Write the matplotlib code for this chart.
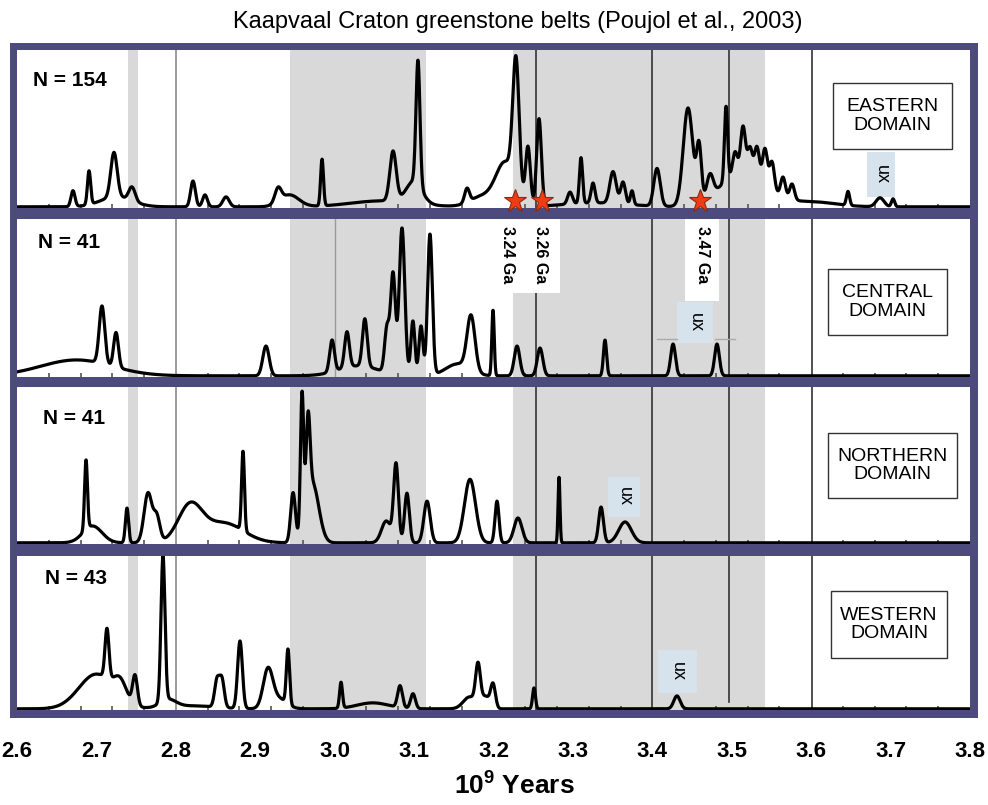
import numpy as np
import matplotlib
matplotlib.use("Agg")
import matplotlib.pyplot as plt
from matplotlib.patches import Rectangle
import matplotlib.transforms as mtransforms

plt.rcParams["mathtext.fontset"] = "custom"
plt.rcParams["mathtext.rm"] = "Liberation Sans"
plt.rcParams["mathtext.bf"] = "Liberation Sans:bold"

# ---------------- data ----------------
title = "Kaapvaal Craton greenstone belts (Poujol et al., 2003)"
xlabel = r"$\mathbf{10^{9}}$ Years"
tick_values = [2.6, 2.7, 2.8, 2.9, 3.0, 3.1, 3.2, 3.3, 3.4, 3.5, 3.6, 3.7, 3.8]
tick_labels = ["2.6", "2.7", "2.8", "2.9", "3.0", "3.1", "3.2", "3.3", "3.4", "3.5", "3.6", "3.7", "3.8"]

domains = ["EASTERN\nDOMAIN", "CENTRAL\nDOMAIN", "NORTHERN\nDOMAIN", "WESTERN\nDOMAIN"]
n_labels = ["N = 154", "N = 41", "N = 41", "N = 43"]

# peak components of each probability curve: age (Ga), relative height, width (Ga)
east_age = [2.6705, 2.6907, 2.7221, 2.725, 2.7448, 2.8216, 2.8367, 2.8632, 2.9287, 2.943,
            2.9841, 3.06, 3.0735, 3.100, 3.1049, 3.1666, 3.185, 3.215, 3.2283, 3.2434, 3.2573,
            3.2963, 3.3102, 3.3253, 3.33, 3.3505, 3.3631, 3.3744, 3.4059, 3.4449, 3.4588,
            3.4726, 3.4928, 3.5041, 3.5142, 3.523, 3.5318, 3.5419, 3.5507, 3.515, 3.5646,
            3.5759, 3.60, 3.6464, 3.6867, 3.7031]
east_h = [16, 34, 45, 10, 14, 26, 12, 10, 14, 12,
          47, 6, 50, 22, 125, 14, 10, 44, 128, 58, 88,
          12, 46, 20, 4, 32, 22, 14, 38, 98, 55,
          22, 75, 22, 45, 25, 30, 35, 28, 36, 20,
          16, 5, 14, 9, 8]
east_w = [0.0025, 0.002, 0.004, 0.02, 0.004, 0.003, 0.003, 0.004, 0.004, 0.012,
          0.0018, 0.04, 0.004, 0.01, 0.0025, 0.003, 0.015, 0.012, 0.004, 0.003, 0.003,
          0.003, 0.002, 0.0025, 0.04, 0.004, 0.003, 0.002, 0.004, 0.006, 0.003,
          0.004, 0.002, 0.003, 0.003, 0.003, 0.003, 0.003, 0.003, 0.028, 0.003,
          0.003, 0.03, 0.002, 0.005, 0.002]

central_age = [2.675, 2.707, 2.7247, 2.9135, 2.9967, 3.0155, 3.03, 3.038, 3.0659, 3.0735,
               3.0848, 3.0985, 3.1087, 3.12, 3.155, 3.1717, 3.1994, 3.2296, 3.2586, 3.3404,
               3.4261, 3.4814]
central_h = [16, 58, 35, 30, 32, 36, 10, 48, 45, 100,
             148, 55, 50, 142, 12, 55, 66, 30, 28, 36,
             32, 32]
central_w = [0.045, 0.0035, 0.003, 0.004, 0.003, 0.003, 0.025, 0.003, 0.003, 0.003,
             0.0035, 0.0025, 0.0025, 0.003, 0.015, 0.005, 0.0015, 0.0035, 0.0035, 0.002,
             0.003, 0.003]

north_age = [2.6869, 2.695, 2.7385, 2.765, 2.776, 2.8178, 2.86, 2.8846, 2.9476, 2.9589,
             2.9665, 2.972, 3.065, 3.0773, 3.091, 3.1163, 3.1704, 3.2044, 3.2308, 3.2825,
             3.3354, 3.3656]
north_h = [70, 17, 35, 50, 25, 36, 20, 80, 50, 136,
           85, 60, 22, 78, 50, 42, 64, 42, 25, 66,
           36, 21]
north_w = [0.0018, 0.012, 0.002, 0.005, 0.004, 0.015, 0.025, 0.0018, 0.003, 0.002,
           0.0025, 0.008, 0.006, 0.003, 0.003, 0.004, 0.007, 0.0025, 0.005, 0.0012,
           0.003, 0.008]

west_age = [2.70, 2.73, 2.7133, 2.7486, 2.7838, 2.79, 2.82, 2.8518, 2.858, 2.8808,
            2.916, 2.93, 2.9412, 3.008, 3.048, 3.0823, 3.0986, 3.17, 3.1805, 3.19,
            3.1994, 3.251, 3.431]
west_h = [35, 18, 50, 30, 146, 8, 3, 27, 28, 68,
          38, 10, 55, 26, 6, 22, 15, 12, 40, 12,
          24, 21, 13]
west_w = [0.022, 0.008, 0.0025, 0.003, 0.0025, 0.01, 0.03, 0.003, 0.003, 0.003,
          0.006, 0.01, 0.002, 0.0018, 0.02, 0.003, 0.003, 0.008, 0.003, 0.005,
          0.003, 0.0018, 0.004]

star_ages = [3.227, 3.261, 3.46]
star_labels = ["3.24 Ga", "3.26 Ga", "3.47 Ga"]

grey_bands = [(2.7398, 2.7524), (2.9438, 3.115), (3.2246, 3.5419)]
dark_lines = [3.253, 3.40, 3.497, 3.601]
grey_lines = [2.80]

# ---------------- layout helpers ----------------
W_PX, H_PX = 988, 805
FRAME = "#4d4b7d"
BAND = "#d9d9d9"
UXC = "#d6e3ec"

def fx(x):
    return x / W_PX

def fy(y):
    return 1 - y / H_PX

fig = plt.figure(figsize=(W_PX / 100, H_PX / 100), dpi=100)
fig.patch.set_facecolor("white")

frame = Rectangle((fx(10), fy(718)), fx(978) - fx(10), fy(43) - fy(718),
                  transform=fig.transFigure, facecolor=FRAME, edgecolor="none", zorder=-1)
fig.patches.append(frame)

regular = ["Liberation Sans", "DejaVu Sans"]

fig.text(fx(518), fy(22), title, ha="center", va="center", fontsize=17, family=regular)

panel_px = [(50, 208), (219, 377), (387, 544), (556, 710)]
components = [(east_age, east_h, east_w), (central_age, central_h, central_w),
              (north_age, north_h, north_w), (west_age, west_h, west_w)]
# domain box (x0, x1, y0, y1) in axes fraction
dbox = [(0.856, 0.981, 0.373, 0.791), (0.851, 0.976, 0.266, 0.684),
        (0.851, 0.986, 0.293, 0.707), (0.854, 0.976, 0.338, 0.773)]
nlab_y = [0.81, 0.85, 0.80, 0.857]
nlab_x = [0.017, 0.022, 0.027, 0.029]
# ux boxes: (age0, age1, yfrac0, yfrac1)
uxbox = [(3.6704, 3.7056, 0.07, 0.354), (3.431, 3.4764, 0.215, 0.475),
         (3.3442, 3.3845, 0.172, 0.427), (3.4071, 3.4562, 0.11, 0.39)]

xs = np.linspace(2.6, 3.8, 6000)
axes = []
for i, (top, bot) in enumerate(panel_px):
    hpx = bot - top
    ax = fig.add_axes([fx(17), fy(bot), fx(970) - fx(17), (bot - top) / H_PX])
    ax.set_facecolor("white")
    ax.set_xlim(2.6, 3.8)
    ax.set_ylim(-1.2, hpx)
    for s in ax.spines.values():
        s.set_visible(False)
    ax.set_yticks([])
    trans = mtransforms.blended_transform_factory(ax.transData, ax.transAxes)

    for a, b in grey_bands:
        ax.axvspan(a, b, color=BAND, lw=0, zorder=0)
    for g in grey_lines:
        ax.axvline(g, color="#8a8a8a", lw=1.2, zorder=1)
    if i == 1:
        ax.axvline(3.0, color="#9a9a9a", lw=1.0, zorder=1)
    for d in dark_lines:
        if i == 3 and abs(d - 3.497) < 1e-6:
            ax.axvline(d, ymin=0.052, ymax=1, color="#333333", lw=1.2, zorder=1)
        else:
            ax.axvline(d, color="#333333", lw=1.2, zorder=1)

    ages, hs, ws = components[i]
    y = np.zeros_like(xs)
    for a, h, w in zip(ages, hs, ws):
        y += h * np.exp(-0.5 * ((xs - a) / w) ** 2)
    ax.plot(xs, y, color="black", lw=2.3, zorder=3, solid_joinstyle="round")

    # ux box
    u0, u1, v0, v1 = uxbox[i]
    ax.add_patch(Rectangle((u0, v0), u1 - u0, v1 - v0, transform=trans,
                           facecolor=UXC, edgecolor="none", zorder=2))
    ax.text((u0 + u1) / 2, (v0 + v1) / 2, "ux", transform=trans, rotation=-90,
            ha="center", va="center", fontsize=13, family=regular, zorder=4)

    # domain box
    x0, x1, y0, y1 = dbox[i]
    ax.add_patch(Rectangle((x0, y0), x1 - x0, y1 - y0, transform=ax.transAxes,
                           facecolor="white", edgecolor="#333333", lw=1.0, zorder=4))
    ax.text((x0 + x1) / 2, (y0 + y1) / 2, domains[i], transform=ax.transAxes,
            ha="center", va="center", fontsize=14, family=regular,
            linespacing=1.1, zorder=5)

    ax.text(nlab_x[i], nlab_y[i], n_labels[i], transform=ax.transAxes,
            ha="left", va="center", fontsize=15, fontweight="bold", family=regular, zorder=5)

    ax.set_xticks(np.arange(2.6, 3.8001, 0.04), minor=True)
    ax.set_xticks(tick_values)
    ax.tick_params(which="minor", direction="in", length=3, width=1.2, color="#555555")
    ax.tick_params(which="major", length=0)
    if i == 3:
        ax.set_xticklabels(tick_labels)
        ax.tick_params(which="major", pad=22)
        for t in ax.get_xticklabels():
            t.set_fontfamily(regular)
            t.set_fontweight("bold")
            t.set_fontsize(16)
    else:
        ax.set_xticklabels([])
    axes.append(ax)

# stars in eastern panel
axE = axes[0]
axE.plot(star_ages, [6] * len(star_ages), linestyle="none", marker="*", markersize=17,
         markerfacecolor="#f03c14", markeredgecolor="#8a2a10", markeredgewidth=0.8,
         clip_on=False, zorder=6)

# age labels in central panel
axC = axes[1]
transC = mtransforms.blended_transform_factory(axC.transData, axC.transAxes)
axC.add_patch(Rectangle((3.2199, 0.532), 3.2838 - 3.2199, 0.468, transform=transC,
                        facecolor="white", edgecolor="none", zorder=2))
axC.add_patch(Rectangle((3.4411, 0.481), 3.4839 - 3.4411, 0.519, transform=transC,
                        facecolor="white", edgecolor="none", zorder=2))
label_x = [3.2170, 3.2586, 3.4626]
for lx, lab in zip(label_x, star_labels):
    axC.text(lx, 0.955, lab, transform=transC, rotation=-90, ha="center", va="top",
             fontsize=11.5, fontweight="bold", family=regular, zorder=5)
# small grey brackets near ux
axC.plot([3.406, 3.431], [0.24, 0.24], transform=transC, color="#aaaaaa", lw=1, zorder=2)
axC.plot([3.479, 3.504], [0.24, 0.24], transform=transC, color="#aaaaaa", lw=1, zorder=2)

fig.text(fx(514), fy(786), xlabel, ha="center", va="center", fontsize=19,
         fontweight="bold", family=regular)

fig.savefig("out.png", dpi=100, facecolor="white")
